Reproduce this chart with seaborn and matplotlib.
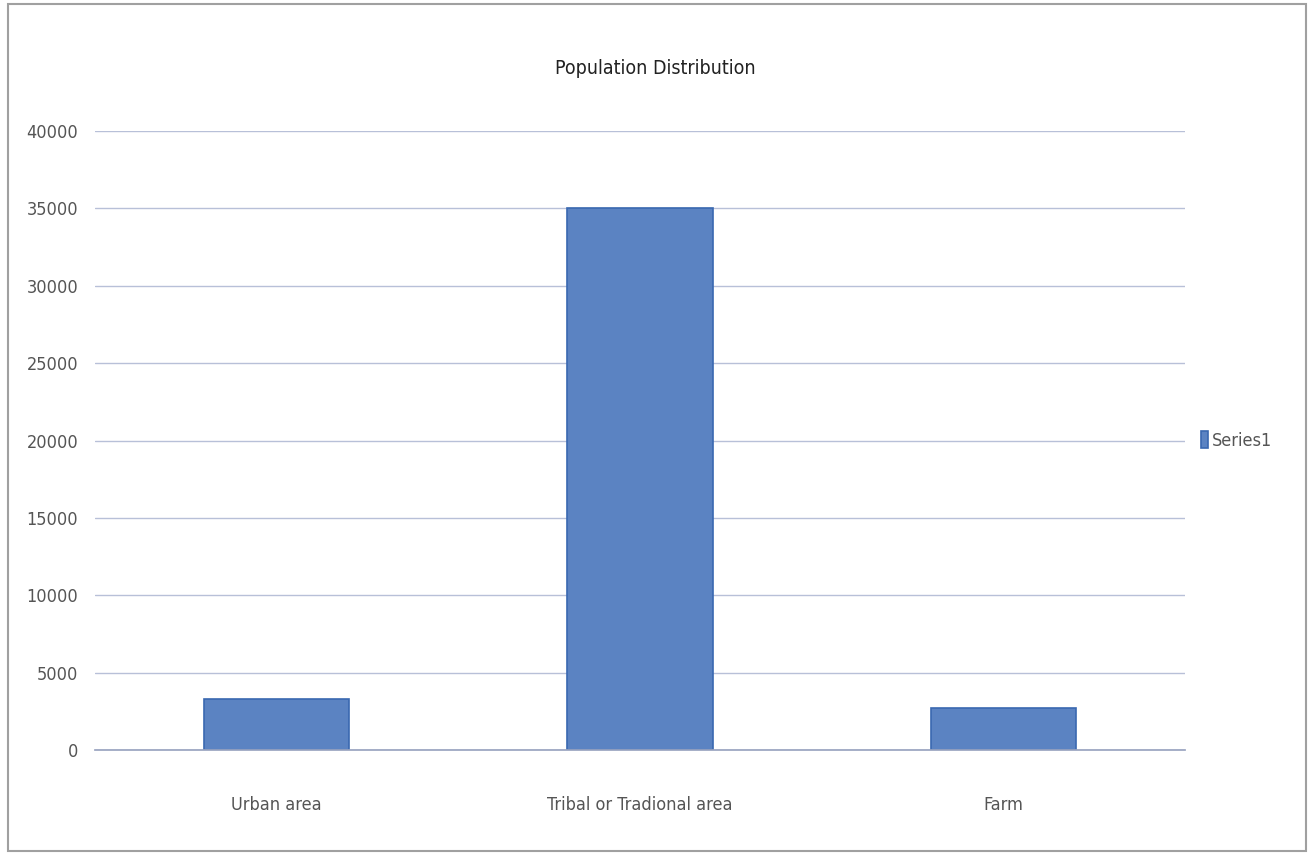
import matplotlib
matplotlib.use("Agg")
import matplotlib.pyplot as plt
import seaborn as sns
import pandas as pd
from matplotlib.patches import Rectangle

categories = ["Urban area", "Tribal or Tradional area", "Farm"]
values = [3300, 35000, 2700]
series_name = "Series1"
yticks = [0, 5000, 10000, 15000, 20000, 25000, 30000, 35000, 40000]

df = pd.DataFrame({"category": categories, "value": values})

sns.set_theme(style="white")
plt.rcParams['font.family'] = ['DejaVu Sans']
plt.rcParams['font.stretch'] = 'condensed'

fig = plt.figure(figsize=(13.11, 8.60), dpi=100)
ax = fig.add_axes([95/1311, 1-750/860, 1090/1311, 619/860])

bar_color = "#5b83c2"
sns.barplot(data=df, x="category", y="value", ax=ax, color=bar_color, saturation=1,
            width=0.4, edgecolor="#3a68b0", linewidth=1.2, label=series_name)

ax.set_ylim(0, 40000)
ax.set_yticks(yticks)
ax.set_yticklabels([str(t) for t in yticks], fontsize=13, color="#555555")
ax.set_xlim(-0.5, 2.5)
ax.tick_params(axis="x", labelsize=13, colors="#555555", pad=33, length=0)
ax.tick_params(axis="y", length=0, pad=12)
ax.set_xlabel("")
ax.set_ylabel("")
ax.yaxis.grid(True, color="#b8c0d8", linewidth=1)
ax.set_axisbelow(True)
for s in ["top", "right", "left"]:
    ax.spines[s].set_visible(False)
ax.spines["bottom"].set_color("#9aa4c0")

fig.text(655/1311, 1-68/860, "Population Distribution", ha="center", va="center",
         fontsize=14, color="#222222")

leg = ax.legend(loc="center left", bbox_to_anchor=(1.0, 0.5), frameon=False,
                fontsize=13, handlelength=0.4, handleheight=1.0, handletextpad=0.2)
for t in leg.get_texts():
    t.set_color("#555555")

fig.patches.append(Rectangle((0.006, 0.01), 0.99, 0.985, transform=fig.transFigure,
                             fill=False, edgecolor="#a0a0a0", linewidth=1.5))

fig.savefig("out.png", dpi=100)
